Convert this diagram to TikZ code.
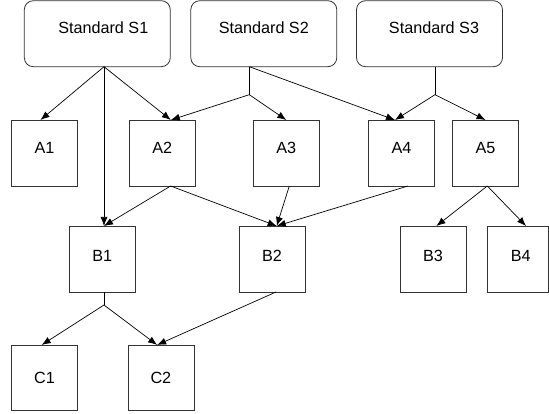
\documentclass[tikz,border=0pt]{standalone}
\usepackage{fontspec}
\setmainfont{Liberation Sans}
\usetikzlibrary{
  arrows.meta,
  positioning,
  calc,
}
\tikzset{
  standard/.style={
    rectangle,
    rounded corners=9pt,
    minimum width=146pt,
    minimum height=66pt,
    text height=11.6pt,
    text depth=11pt,
    outer sep=0pt,
    draw=black!80,
    line width=0.8pt
  },
  item/.style={
    rectangle,
    minimum width=66pt,
    minimum height=66pt,
    text height=11.6pt,
    text depth=#1,
    outer sep=0pt,
    draw=black!80,
    line width=0.8pt
  },
  item/.default=0pt,
  arrow/.style={
    line width=0.7pt,
    -{Latex[length=9pt,width=7pt]},
  },
  link/.style={
    line width=0.7pt,
  },
}

\begin{document}
\begin{tikzpicture}[x=1pt, y=-1pt, font=\fontsize{16.2}{19}\selectfont]

  \useasboundingbox (0,0) rectangle (549,414);

  % standards
  \node[standard] (s1) at (97.3,33.7) {\hspace*{12pt}Standard S1};
  \node[standard, right=20.5pt of s1] (s2) {Standard S2};
  \node[standard, right=19.7pt of s2] (s3) {\hspace*{9pt}Standard S3};

  % first level
  \node[item=10pt] (a1) at (44.5,153) {A1};
  \node[item=10pt, right=51.8pt of a1] (a2) {A2};
  \node[item=10pt, right=58pt of a2] (a3) {A3};
  \node[item=10pt, right=49.2pt of a3] (a4) {A4};
  \node[item=10pt, right=18pt of a4] (a5) {A5};

  % second level
  \node[item=6pt] (b1) at (102.3,259) {B1};
  \node[item=6pt, right=103.7pt of b1] (b2) {B2};
  \node[item=6pt, right=95pt of b2] (b3) {B3};
  \node[item=6pt, minimum width=61pt, right=21.3pt of b3] (b4) {\hspace*{6pt}B4};

  % third level
  \node[item, minimum height=65.5pt] (c1) at (44.5,377.7) {C1};
  \node[item, minimum height=65.5pt, right=50.4pt of c1] (c2) {C2};

  % connection points
  \coordinate (s1 out) at ($(s1.south)+(6.7,0)$);
  \coordinate (s2 out) at ($(s2.south)+(-14.5,0)$);
  \coordinate (s2 fork) at ($(s2 out)+(0,28)$);
  \coordinate (s3 out) at ($(s3.south)+(5.5,0)$);
  \coordinate (s3 fork) at ($(s3 out)+(0,28)$);
  \coordinate (a1 in) at ($(a1.north)+(-4,0)$);
  \coordinate (a2 in) at ($(a2.north)+(8.5,0)$);
  \coordinate (a4 in) at ($(a4.north)+(-6.5,0)$);
  \coordinate (a2 out) at ($(a2.south)+(8.3,0)$);
  \coordinate (a3 out) at ($(a3.south)+(3,0)$);
  \coordinate (a4 out) at ($(a4.south)+(6.5,0)$);
  \coordinate (a5 out) at ($(a5.south)+(1.8,0)$);
  \coordinate (b1 in) at (s1 out |- b1.north);
  \coordinate (b2 in) at ($(b2.north)+(4.7,0)$);
  \coordinate (b3 in) at ($(b3.north)+(3.4,0)$);
  \coordinate (b4 in) at ($(b4.north)+(8.2,0)$);
  \coordinate (b1 out) at ($(b1.south)+(1.7,0)$);
  \coordinate (b1 fork) at ($(b1 out)+(0,13)$);
  \coordinate (b2 out) at ($(b2.south)+(4,0)$);
  \coordinate (c1 in) at ($(c1.north)+(-2.8,0)$);
  \coordinate (c2 in) at ($(c2.north)+(-3.8,0)$);

  % connectors
  \draw[arrow] (s1 out) -- (a1 in);
  \draw[arrow] (s1 out) -- (a2 in);
  \draw[arrow] (s1 out) -- (b1 in);
  \draw[link] (s2 out) -- (s2 fork);
  \draw[arrow] (s2 fork) -- (a2 in);
  \draw[arrow] (s2 fork) -- (a3.north);
  \draw[arrow] (s2 out) -- (a4 in);
  \draw[link] (s3 out) -- (s3 fork);
  \draw[arrow] (s3 fork) -- (a4 in);
  \draw[arrow] (s3 fork) -- (a5.north);

  \draw[arrow] (a2 out) -- (b1 in);
  \draw[arrow] (a2 out) -- (b2 in);
  \draw[arrow] (a3 out) -- (b2 in);
  \draw[arrow] (a4 out) -- (b2 in);
  \draw[arrow] (a5 out) -- (b3 in);
  \draw[arrow] (a5 out) -- (b4 in);

  \draw[link] (b1 out) -- (b1 fork);
  \draw[arrow] (b1 fork) -- (c1 in);
  \draw[arrow] (b1 fork) -- (c2 in);
  \draw[arrow] (b2 out) -- (c2 in);

\end{tikzpicture}
\end{document}
